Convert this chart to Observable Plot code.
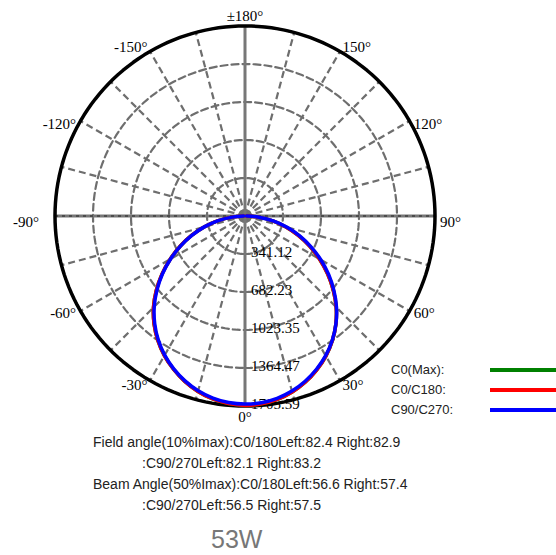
<!DOCTYPE html>
<html><head><meta charset="utf-8">
<script src="https://cdn.jsdelivr.net/npm/d3@7"></script>
<script src="https://cdn.jsdelivr.net/npm/@observablehq/plot@0.6"></script>
<style>
body{margin:0;background:#fff;}
#wrap{position:relative;width:556px;height:555px;overflow:hidden;background:#fff;}
#chart{position:absolute;left:0;top:0;}
.note{position:absolute;font-family:Arial,"Liberation Sans",sans-serif;font-size:14px;line-height:14px;color:#222;white-space:nowrap;}
.leg{position:absolute;font-family:Arial,"Liberation Sans",sans-serif;font-size:13px;line-height:13px;color:#222;white-space:nowrap;}
.legline{position:absolute;height:4px;}
.power{position:absolute;font-family:Arial,"Liberation Sans",sans-serif;font-size:25px;line-height:25px;color:#777;white-space:nowrap;}
</style></head>
<body><div id="wrap"><div id="chart"></div></div>
<script>
// ---- data ----
const gamma = [0,5,10,15,20,25,30,35,40,45,50,55,60,65,70,75,80,85,90];
const c0   = [1700.0,1693.0,1672.0,1636.0,1586.0,1524.0,1452.0,1366.5,1268.8,1157.6,1034.0,905.0,772.0,640.0,509.0,380.0,253.0,118.4,13.4];
const c180 = [1700.0,1690.0,1668.0,1630.5,1580.0,1518.1,1447.0,1363.8,1269.5,1162.2,1039.6,909.8,775.4,642.3,510.6,380.2,250.9,116.0,12.8];
const c90  = [1688.4,1682.0,1661.5,1626.7,1578.5,1518.2,1448.0,1364.8,1269.3,1162.0,1042.1,916.5,785.6,654.0,522.3,391.2,262.4,125.1,15.0];
const c270 = [1688.4,1681.1,1659.7,1623.9,1574.6,1513.4,1442.1,1357.6,1261.0,1152.4,1031.3,904.0,771.8,639.6,508.2,377.8,249.6,114.2,12.5];
const ringValues = [341.12, 682.23, 1023.35, 1364.47, 1705.59];
const ringLabels = ["341.12","682.23","1023.35","1364.47","1705.59"];
const angleTicks  = [0,30,60,90,120,150,180,-150,-120,-90,-60,-30];
const angleLabels = ["0°","30°","60°","90°","120°","150°","±180°","-150°","-120°","-90°","-60°","-30°"];
const seriesNames  = ["C0(Max):","C0/C180:","C90/C270:"];
const seriesColors = ["#008000","#ff0000","#0000ff"];
const noteLines = [
  "Field angle(10%Imax):C0/180Left:82.4 Right:82.9",
  ":C90/270Left:82.1 Right:83.2",
  "Beam Angle(50%Imax):C0/180Left:56.6 Right:57.4",
  ":C90/270Left:56.5 Right:57.5"
];
const powerLabel = "53W";

// ---- geometry helpers ----
const Imax = ringValues[ringValues.length - 1];
const W = 556, H = 430;
const cx = 244.5, cy = 215.5, R = 190;
const px = Imax / R; // data units per pixel
const rad = a => a * Math.PI / 180;
const px_ = (r, a) => r * Math.sin(rad(a));
const py_ = (r, a) => -r * Math.cos(rad(a));

function plane(right, left) {
  const pts = [];
  for (let i = gamma.length - 1; i >= 1; i--) pts.push({a: -gamma[i], r: left[i]});
  for (let i = 0; i < gamma.length; i++) pts.push({a: gamma[i], r: right[i]});
  return pts;
}
const series = [plane(c0, c180), plane(c0, c180), plane(c90, c270)];

const circlePts = [];
ringValues.forEach((v, k) => {
  for (let a = 0; a <= 360; a += 2) circlePts.push({ring: k, r: v, a});
});
const outerPts = circlePts.filter(d => d.ring === ringValues.length - 1);

const spokes = d3.range(-165, 181, 15).filter(a => a % 90 !== 0);

function labelR(a) { return Imax + px * (a === -90 ? 16 : 5); }
const ticks = angleTicks.map((a, i) => ({a, label: angleLabels[i]}));
function group(filter, textAnchor, lineAnchor) {
  return Plot.text(ticks.filter(filter), {
    x: d => px_(labelR(d.a), d.a), y: d => py_(labelR(d.a), d.a),
    text: "label", textAnchor, lineAnchor,
    fontFamily: "'Liberation Serif','Times New Roman',serif", fontSize: 15, fill: "#000"
  });
}

const grid = "#6e6e6e";
const plot = Plot.plot({
  width: W, height: H,
  marginLeft: cx - R, marginRight: W - (cx + R),
  marginTop: cy - R, marginBottom: H - (cy + R),
  x: {domain: [-Imax, Imax], axis: null},
  y: {domain: [-Imax, Imax], axis: null},
  style: {background: "#fff", overflow: "visible"},
  marks: [
    // dashed rings
    Plot.line(circlePts, {x: d => px_(d.r, d.a), y: d => py_(d.r, d.a), z: "ring",
      stroke: grid, strokeWidth: 2.2, strokeDasharray: "7,4"}),
    // dashed spokes
    Plot.link(spokes, {x1: () => 0, y1: () => 0, x2: a => px_(Imax, a), y2: a => py_(Imax, a),
      stroke: grid, strokeWidth: 2.2, strokeDasharray: "7,4"}),
    // main axes
    Plot.link([0, 90], {x1: a => px_(Imax, a + 180), y1: a => py_(Imax, a + 180),
      x2: a => px_(Imax, a), y2: a => py_(Imax, a), stroke: "#777", strokeWidth: 3}),
    Plot.link([90], {x1: a => px_(Imax, a + 180), y1: a => py_(Imax, a + 180),
      x2: a => px_(Imax, a), y2: a => py_(Imax, a), stroke: "#222", strokeWidth: 1, strokeDasharray: "3,4"}),
    // outer circle
    Plot.line(outerPts, {x: d => px_(d.r, d.a), y: d => py_(d.r, d.a), stroke: "#000", strokeWidth: 3.5}),
    // ring labels
    Plot.text(ringValues, {x: () => 0, y: d => -d, text: (d, i) => ringLabels[i],
      textAnchor: "start", lineAnchor: "middle", dx: 6, dy: -2,
      fontFamily: "'Liberation Serif','Times New Roman',serif", fontSize: 15, fill: "#000"}),
    // angle labels
    group(d => d.a === 0, "middle", "top"),
    group(d => d.a === 180, "middle", "bottom"),
    group(d => [30, 60, 150].includes(d.a), "start", "middle"),
    group(d => [90, 120].includes(d.a), "start", "top"),
    group(d => [-30, -60, -150].includes(d.a), "end", "middle"),
    group(d => [-90, -120].includes(d.a), "end", "top"),
    // intensity curves
    ...series.map((s, i) => Plot.line(s, {x: d => px_(d.r, d.a), y: d => py_(d.r, d.a),
      stroke: seriesColors[i], strokeWidth: 3.5, curve: "catmull-rom"}))
  ]
});
const wrap = document.getElementById("wrap");
document.getElementById("chart").appendChild(plot);

// legend
const legY = [370, 390, 410];
seriesNames.forEach((n, i) => {
  const t = document.createElement("div");
  t.className = "leg"; t.textContent = n;
  t.style.left = "391px"; t.style.top = (legY[i] - 7) + "px";
  wrap.appendChild(t);
  const l = document.createElement("div");
  l.className = "legline"; l.style.background = seriesColors[i];
  l.style.left = "490px"; l.style.width = "66px"; l.style.top = (legY[i] - 2) + "px";
  wrap.appendChild(l);
});
// notes
const noteY = [442, 463, 484, 505];
const noteX = [93, 142, 93, 142];
noteLines.forEach((s, i) => {
  const t = document.createElement("div");
  t.className = "note"; t.textContent = s;
  t.style.left = noteX[i] + "px"; t.style.top = (noteY[i] - 7) + "px";
  wrap.appendChild(t);
});
const p = document.createElement("div");
p.className = "power"; p.textContent = powerLabel;
p.style.left = "211px"; p.style.top = (540 - 13) + "px";
wrap.appendChild(p);
</script>
</body></html>
